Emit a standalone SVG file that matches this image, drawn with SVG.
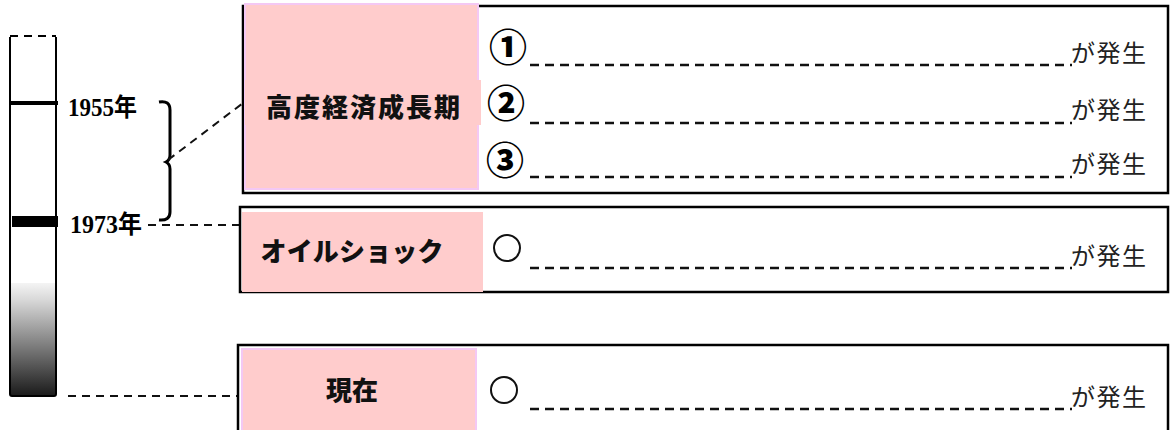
<svg xmlns="http://www.w3.org/2000/svg" width="1173" height="430" viewBox="0 0 1173 430">
  <defs>
    <linearGradient id="fade" x1="0" y1="0" x2="0" y2="1">
      <stop offset="0" stop-color="#f4f4f4"/>
      <stop offset="0.15" stop-color="#d8d8d8"/>
      <stop offset="1" stop-color="#1a1a1a"/>
    </linearGradient>
    <style>
      .box { fill: #ffffff; stroke: #000; stroke-width: 2.5; }
      .pink { fill: #ffcccc; }
      .pinkb { fill: #ffcccc; stroke: #f4c8f4; stroke-width: 2; }
      .title { font-family: "Noto Sans CJK JP", sans-serif; font-weight: 900; font-size: 26px; fill: #111; text-anchor: middle; }
      .tail { font-family: "Noto Sans CJK JP", sans-serif; font-size: 24px; fill: #222; letter-spacing: 1.5px; }
      .num { font-family: "Noto Sans CJK JP", sans-serif; font-weight: 900; font-size: 38px; fill: #000; text-anchor: middle; }
      .year { font-family: "Liberation Serif", "Noto Sans CJK JP", serif; font-weight: bold; font-size: 25px; fill: #000; }
      .blank { stroke: #111; stroke-width: 2.5; stroke-dasharray: 9 6; fill: none; }
      .conn { stroke: #111; stroke-width: 2; stroke-dasharray: 8 6; fill: none; }
    </style>
  </defs>

  <g id="timeline">
    <rect x="11" y="283" width="45" height="113" fill="url(#fade)"/>
    <path d="M10 37 V394 Q10 396 12 396 H54 Q56 396 56 394 V37" fill="none" stroke="#000" stroke-width="2"/>
    <line x1="10" y1="36" x2="56" y2="36" stroke="#000" stroke-width="2" stroke-dasharray="8 6"/>
    <line x1="10" y1="103" x2="58" y2="103" stroke="#000" stroke-width="4"/>
    <rect x="12" y="216" width="46" height="11" fill="#000"/>
    <text class="year" x="68" y="116" textLength="69" lengthAdjust="spacingAndGlyphs">1955年</text>
    <text class="year" x="70" y="233" textLength="72" lengthAdjust="spacingAndGlyphs">1973年</text>
    <path d="M159 102 Q170 100 170 110 V155 Q170 160 166 162 Q170 164 170 169 V212 Q170 221 159 220" fill="none" stroke="#000" stroke-width="3"/>
  </g>

  <g id="connectors">
    <line class="conn" x1="168" y1="160" x2="247" y2="100"/>
    <line class="conn" x1="148" y1="225" x2="240" y2="225"/>
    <line class="conn" x1="68" y1="396" x2="238" y2="396"/>
  </g>

  <g id="node-kodo">
    <rect class="box" x="243" y="6" width="925" height="187"/>
    <rect class="pinkb" x="245" y="4" width="233" height="185"/>
    <rect class="pink" x="245" y="80" width="236" height="45"/>
    <text class="title" x="363" y="117" textLength="194" lengthAdjust="spacing">高度経済成長期</text>
    <text class="num" x="508" y="61">①</text>
    <text class="num" x="506" y="117">②</text>
    <text class="num" x="505" y="174">③</text>
    <line class="blank" x1="530" y1="65" x2="1072" y2="65"/>
    <line class="blank" x1="530" y1="123" x2="1072" y2="123"/>
    <line class="blank" x1="530" y1="177" x2="1072" y2="177"/>
    <text class="tail" x="1071" y="62">が発生</text>
    <text class="tail" x="1071" y="119">が発生</text>
    <text class="tail" x="1071" y="173">が発生</text>
  </g>

  <g id="node-oil">
    <rect class="box" x="240" y="207" width="928" height="85"/>
    <rect class="pink" x="242" y="212" width="241" height="80"/>
    <text class="title" x="352" y="261" textLength="183" lengthAdjust="spacing">オイルショック</text>
    <circle cx="507" cy="248" r="13" fill="none" stroke="#111" stroke-width="2"/>
    <line class="blank" x1="530" y1="268" x2="1072" y2="268"/>
    <text class="tail" x="1071" y="265">が発生</text>
  </g>

  <g id="node-now">
    <rect class="box" x="238" y="345" width="930" height="90"/>
    <rect class="pinkb" x="242" y="349" width="234" height="84"/>
    <text class="title" x="352" y="400">現在</text>
    <circle cx="504" cy="390" r="13" fill="none" stroke="#111" stroke-width="2"/>
    <line class="blank" x1="530" y1="409" x2="1072" y2="409"/>
    <text class="tail" x="1071" y="406">が発生</text>
  </g>
</svg>
